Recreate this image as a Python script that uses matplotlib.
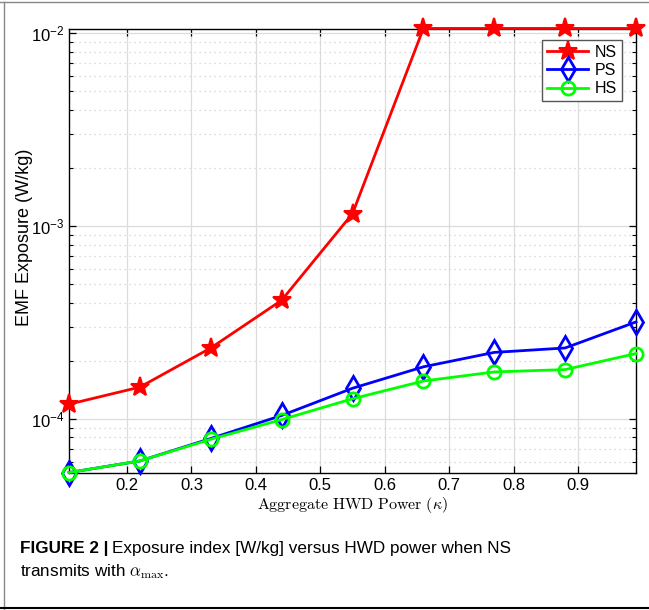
import numpy as np
import matplotlib
matplotlib.use("Agg")
import matplotlib.pyplot as plt
from matplotlib.lines import Line2D

plt.rcParams['font.family'] = ['Liberation Sans', 'DejaVu Sans']
plt.rcParams['mathtext.fontset'] = 'cm'

# data
kappa = [0.11, 0.22, 0.33, 0.44, 0.55, 0.66, 0.77, 0.88, 0.99]
ns = [1.19e-4, 1.46e-4, 2.33e-4, 4.12e-4, 1.16e-3, 1.06e-2, 1.06e-2, 1.06e-2, 1.06e-2]
ps = [5.26e-5, 6.04e-5, 7.9e-5, 1.04e-4, 1.44e-4, 1.86e-4, 2.21e-4, 2.33e-4, 3.18e-4]
hs = [5.26e-5, 6.04e-5, 7.83e-5, 9.9e-5, 1.27e-4, 1.57e-4, 1.75e-4, 1.80e-4, 2.18e-4]
series_names = ['NS', 'PS', 'HS']
xticks = [0.2, 0.3, 0.4, 0.5, 0.6, 0.7, 0.8, 0.9]

fig = plt.figure(figsize=(6.49, 6.10), dpi=100)
ax = fig.add_axes([69 / 649, 1 - 472.7 / 610, (636 - 69) / 649, (472.7 - 29) / 610])

ax.plot(kappa, ns, color='red', lw=2, marker='*', ms=14, mfc='red', mew=1.5, label=series_names[0], clip_on=False, zorder=5)
ax.plot(kappa, ps, color='blue', lw=2, marker='d', ms=12, mfc='none', mew=2, label=series_names[1], clip_on=False, zorder=4)
ax.plot(kappa, hs, color=(0, 1, 0), lw=2, marker='o', ms=9.5, mfc='none', mew=2, label=series_names[2], clip_on=False, zorder=4)

ax.set_yscale('log')
ax.set_xlim(0.11, 0.99)
ax.set_ylim(5.25e-5, 1.053e-2)
ax.set_xticks(xticks)
ax.set_xticklabels([f"{t:.1f}" for t in xticks])

ax.grid(True, which='major', color='#dcdcdc', lw=0.9, ls='-')
ax.grid(True, which='minor', axis='y', color='#d0d0d0', lw=0.9, ls=(0, (1, 3)))
ax.set_axisbelow(True)
ax.tick_params(which='both', direction='in', top=True, right=True, labelsize=12, color='black')
ax.tick_params(which='major', length=5, width=0.9)
ax.tick_params(which='minor', length=3, width=0.8)
ax.tick_params(axis='x', which='minor', top=False, bottom=False)
for s in ax.spines.values():
    s.set_linewidth(1.0)

ax.set_ylabel('EMF Exposure (W/kg)', fontsize=13)
ax.yaxis.set_label_coords(-0.063, 0.53)
ax.set_xlabel(r'$\mathrm{Aggregate\ HWD\ Power}\ (\kappa)$', fontsize=11.5, labelpad=2)

leg = ax.legend(loc='upper right', bbox_to_anchor=(0.975, 0.975), fontsize=11.5, fancybox=False,
                framealpha=1, edgecolor='#555555', handlelength=2.6, borderpad=0.3,
                labelspacing=0.2, handletextpad=0.4, borderaxespad=0)
leg.get_frame().set_linewidth(1.0)

# caption
t1 = fig.text(20 / 649, 1 - 548 / 610, 'FIGURE 2 |', fontsize=12.3, fontweight='bold', va='center', ha='left')
fig.canvas.draw()
bb = t1.get_window_extent()
x2 = (bb.x1 + 4) / fig.bbox.width
fig.text(x2, 1 - 548 / 610, 'Exposure index [W/kg] versus HWD power when NS', fontsize=12.3, va='center', ha='left')
fig.text(20 / 649, 1 - 572 / 610, r'transmits with $\alpha_{\mathrm{max}}$.', fontsize=12.3, va='center', ha='left')

# frame around the figure
fig.add_artist(Line2D([0, 1], [1 - 2 / 610, 1 - 2 / 610], transform=fig.transFigure, color='#888888', lw=1))
fig.add_artist(Line2D([4 / 649, 4 / 649], [0, 1 - 2 / 610], transform=fig.transFigure, color='#888888', lw=1))
fig.add_artist(Line2D([0, 1], [1 - 607.5 / 610, 1 - 607.5 / 610], transform=fig.transFigure, color='black', lw=1.5))

fig.savefig('out.png', dpi=100)
